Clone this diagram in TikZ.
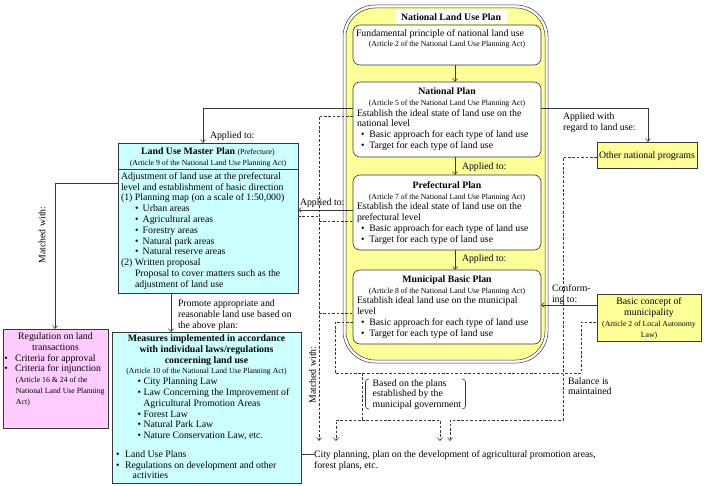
\documentclass[tikz,border=0pt]{standalone}
\usepackage{fontspec}
\setmainfont{Liberation Serif}
\usetikzlibrary{arrows.meta}
\newcommand\mainf{\fontsize{9.8}{10.8}\selectfont}
\newcommand\smf{\fontsize{7.8}{10.8}\selectfont}
\newcommand\bulx[2]{\strut\hspace*{#1}\textbullet\hspace*{#2}}
\definecolor{fyel}{RGB}{255,255,153}
\definecolor{fcyan}{RGB}{204,255,255}
\definecolor{fpink}{RGB}{255,204,255}
\definecolor{lc}{RGB}{55,55,55}
\begin{document}
\begin{tikzpicture}[x=1pt,y=-1pt,
 box/.style={draw=lc, line width=0.6pt, inner sep=0pt, outer sep=0pt, anchor=north west},
 wbox/.style={box, fill=white, rounded corners=7pt},
 cbox/.style={box, fill=fcyan, line width=0.9pt},
 txt/.style={inner sep=0pt, outer sep=0pt, anchor=north west, align=left, font=\mainf},
 lbl/.style={inner sep=0pt, outer sep=0pt, anchor=base west, font=\mainf},
 conn/.style={draw=lc, line width=0.6pt},
 arr/.style={-{Straight Barb[length=3pt,width=5pt]}},
 dsh/.style={conn, dash pattern=on 2.6pt off 1.8pt},
]
\fill[white] (0,0) rectangle (704,486);
\useasboundingbox (0,0) rectangle (704,486);

% frame
\draw[draw=lc, line width=0.5pt, fill=white, rounded corners=32pt] (343,5) rectangle (548,363);
\draw[draw=lc, line width=0.5pt, fill=fyel, rounded corners=29pt] (346,8) rectangle (545,360);
\node[fill=white, inner sep=0pt, minimum width=112pt, minimum height=14pt, font=\mainf\bfseries] (ftitle) at (451,17.5) {National Land Use Plan};

% boxes
\node[wbox, minimum width=188pt, minimum height=40pt] (fund) at (353,25) {};
\node[wbox, minimum width=188pt, minimum height=75pt] (nat) at (353,82) {};
\node[wbox, minimum width=188pt, minimum height=75pt] (pref) at (353,175) {};
\node[wbox, minimum width=188pt, minimum height=74pt] (muni) at (353,270) {};
\node[cbox, minimum width=180pt, minimum height=150pt] (master) at (118,143) {};
\draw[lc, line width=0.9pt] (master.west |- 0,169) -- (master.east |- 0,169);
\node[cbox, minimum width=189pt, minimum height=151pt] (meas) at (112,332) {};
\node[box, fill=fpink, line width=0.9pt, minimum width=105pt, minimum height=99pt] (reg) at (3,329) {};
\node[box, fill=fyel, minimum width=100pt, minimum height=26pt] (other) at (597,142) {};
\node[box, fill=fyel, minimum width=104pt, minimum height=47pt] (basic) at (597,294) {};

% texts in boxes
\node[txt] (fundtxt) at (356,28.6) {\strut Fundamental principle of national land use\\
\makebox[182pt]{\smf\strut(Article 2 of the National Land Use Planning Act)}};

\node[txt] (nattxt) at (357,86.9) {\makebox[180pt]{\bfseries\strut National Plan}\\
\makebox[180pt]{\smf\strut(Article 5 of the National Land Use Planning Act)}\\
\strut Establish the ideal state of land use on the\\
\strut national level\\
\bulx{4.2pt}{4.7pt}Basic approach for each type of land use\\
\bulx{4.2pt}{4.7pt}Target for each type of land use};

\node[txt] (preftxt) at (357,180.8) {\makebox[180pt]{\bfseries\strut Prefectural Plan}\\
\makebox[180pt]{\smf\strut(Article 7 of the National Land Use Planning Act)}\\
\strut Establish the ideal state of land use on the\\
\strut prefectural level\\
\bulx{4.2pt}{4.7pt}Basic approach for each type of land use\\
\bulx{4.2pt}{4.7pt}Target for each type of land use};

\node[txt] (munitxt) at (357,274.7) {\makebox[180pt]{\bfseries\strut Municipal Basic Plan}\\
\makebox[180pt]{\smf\strut(Article 8 of the National Land Use Planning Act)}\\
\strut Establish ideal land use on the municipal\\
\strut level\\
\bulx{4.2pt}{4.7pt}Basic approach for each type of land use\\
\bulx{4.2pt}{4.7pt}Target for each type of land use};

\node[txt] (masterhead) at (121,146.7) {\makebox[174pt]{\strut\textbf{Land Use Master Plan} {\smf(Prefecture)}}\\
\makebox[174pt]{\smf\strut(Article 9 of the National Land Use Planning Act)}};
\node[txt] (mastertxt) at (121,171.7) {\strut Adjustment of land use at the prefectural\\
\strut level and establishment of basic direction\\
\strut (1) Planning map (on a scale of 1:50,000)\\
\bulx{14.2pt}{4.1pt}Urban areas\\
\bulx{14.2pt}{4.1pt}Agricultural areas\\
\bulx{14.2pt}{4.1pt}Forestry areas\\
\bulx{14.2pt}{4.1pt}Natural park areas\\
\bulx{14.2pt}{4.1pt}Natural reserve areas\\
\strut (2) Written proposal\\
\strut\hspace*{14pt}Proposal to cover matters such as the\\
\strut\hspace*{14pt}adjustment of land use};

\node[txt] (meastxt) at (114,334) {\makebox[185pt]{\bfseries\strut Measures implemented in accordance}\\
\makebox[185pt]{\bfseries\strut with individual laws/regulations}\\
\makebox[185pt]{\bfseries\strut concerning land use}\\
\makebox[185pt]{\smf\strut(Article 10 of the National Land Use Planning Act)}\\
\bulx{23.5pt}{2.6pt}City Planning Law\\
\bulx{23.5pt}{2.6pt}Law Concerning the Improvement of\\
\strut\hspace*{29.3pt}Agricultural Promotion Areas\\
\bulx{23.5pt}{2.6pt}Forest Law\\
\bulx{23.5pt}{2.6pt}Natural Park Law\\
\bulx{23.5pt}{2.6pt}Nature Conservation Law, etc.\\[7.8pt]
\bulx{2.2pt}{5.4pt}Land Use Plans\\
\bulx{2.2pt}{5.4pt}Regulations on development and other\\
\strut\hspace*{18.7pt}activities};

\node[txt] (regtxt) at (3,332) {\makebox[105pt]{\strut Regulation on land}\\
\makebox[105pt]{\strut transactions}\\
\bulx{1.5pt}{7.1pt}Criteria for approval\\
\bulx{1.5pt}{7.1pt}Criteria for injunction\\
\strut\hspace*{13pt}{\smf(Article 16 \& 24 of the}\\
\strut\hspace*{13pt}{\smf National Land Use Planning}\\
\strut\hspace*{13pt}{\smf Act)}};

\node[lbl, anchor=base] (othertxt) at (647,158.3) {Other national programs};
\node[txt, anchor=north, align=center] (basictxt) at (649,297.4) {\strut Basic concept of\\
\strut municipality\\
{\smf\strut(Article 2 of Local Autonomy}\\
{\smf\strut Law)}};

% labels
\node[lbl] (appl1) at (210,138.3) {Applied to:};
\node[lbl] (appl2) at (462,170) {Applied to:};
\node[lbl] (appl3) at (462,261.6) {Applied to:};
\node[lbl] (appl4) at (300,205.3) {Applied to:};
\node[txt] (applw) at (563,111.7) {\strut Applied with\\ \strut regard to land use:};
\node[txt] (conf) at (552,284) {\strut Conform-\\ \strut ing to:};
\node[txt] (promote) at (178,299) {\strut Promote appropriate and\\ \strut reasonable land use based on\\ \strut the above plan:};
\node[txt] (based) at (372.7,378.5) {\strut Based on the plans\\ \strut established by the\\ \strut municipal government};
\node[txt] (balance) at (568,376.5) {\strut Balance is\\ \strut maintained};
\node[txt] (city) at (314,450) {\strut City planning, plan on the development of agricultural promotion areas,\\ \strut forest plans, etc.};
\node[inner sep=0pt, font=\mainf, rotate=90] (match1) at (42,235) {Matched with:};
\node[inner sep=0pt, font=\mainf, rotate=90] (match2) at (312.5,375) {Matched with:};

% bracket round "based"
\draw[lc, line width=0.6pt, rounded corners=3pt] (369,379) -- (365.5,379) -- (365.5,409) -- (369,409);
\draw[lc, line width=0.6pt, rounded corners=3pt] (462,379) -- (465.5,379) -- (465.5,409) -- (462,409);

% solid connectors
\draw[conn, arr] (fund.south -| 455,0) -- (nat.north -| 455,0);
\draw[conn, arr] (nat.south -| 455,0) -- (pref.north -| 455,0);
\draw[conn, arr] (pref.south -| 455,0) -- (muni.north -| 455,0);
\draw[conn, arr] (nat.west |- 0,108) -| (master.north -| 203,0);
\draw[conn, arr] (nat.east |- 0,108) -| (other.north -| 648,0);
\draw[conn, arr] (pref.west |- 0,210) -- (master.east |- 0,210);
\draw[conn, arr] (master.west |- 0,183) -| (reg.north -| 55,0);
\draw[conn, arr] (master.south -| 171,0) -- (meas.north -| 171,0);
\draw[conn] (meas.east |- 0,454) -- (city.west |- 0,454);
\draw[conn, arr] (basic.west |- 0,305) -- (muni.east |- 0,305);

% dashed connectors
\coordinate (v1top) at (319,116);
\coordinate (v1bot) at (319,441);
\draw[dsh, arr] (nat.west |- v1top) -- (v1top) -- (v1bot);
\draw[dsh] (master.east |- 0,216) -- (v1top |- 0,216);
\draw[dsh] (v1top |- 0,221) -- (pref.west |- 0,221);
\draw[dsh] (v1top |- 0,313) -- (muni.west |- 0,313);
\coordinate (lbl1) at (335,322);
\coordinate (lbl2) at (335,373);
\coordinate (lbr2) at (581,373);
\coordinate (lbr1) at (581,322);
\draw[dsh] (muni.west |- lbl1) -- (lbl1) -- (lbl2) -- (lbr2) -- (lbr1) -- (basic.west |- lbr1);
\coordinate (bj) at (362,373);
\coordinate (bk) at (362,420);
\coordinate (t1) at (336,441);
\coordinate (t2) at (440,441);
\coordinate (t3) at (450,441);
\draw[dsh, arr] (bj) -- (bk) -| (t1);
\draw[dsh, arr] (bk) -| (t2);
\coordinate (oc1) at (563,157);
\coordinate (oc2) at (563,420);
\draw[dsh, arr] (other.west |- oc1) -- (oc1) -- (oc2) -| (t3);
\end{tikzpicture}
\end{document}
